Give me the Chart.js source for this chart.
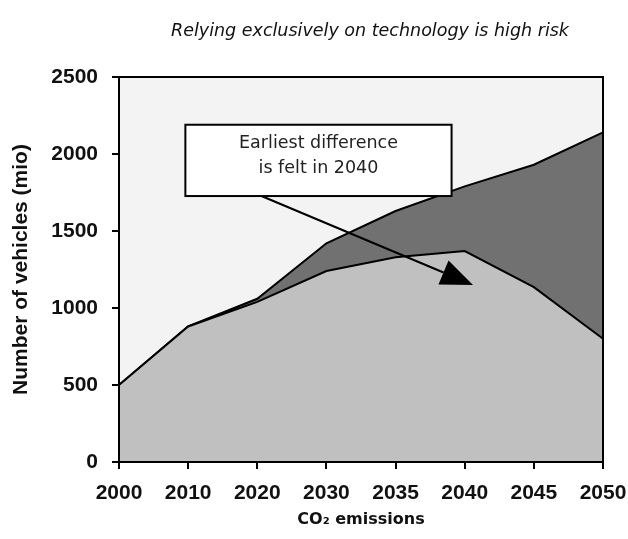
<!DOCTYPE html>
<html>
<head>
<meta charset="utf-8">
<script src="https://cdn.jsdelivr.net/npm/chart.js@4"></script>
<style>
  html, body { margin: 0; padding: 0; background: #ffffff; }
  #chart { display: block; }
</style>
</head>
<body>
<canvas id="chart" width="628" height="539"></canvas>
<script>
// Vehicle fleet scenarios, in millions
const years = ['2000', '2010', '2020', '2030', '2035', '2040', '2045', '2050'];
const baselineFleet = [500, 880, 1060, 1420, 1630, 1790, 1930, 2140];
const technologyFleet = [500, 880, 1040, 1240, 1330, 1370, 1135, 800];
const yTickValues = [0, 500, 1000, 1500, 2000, 2500];

const titleText = 'Relying exclusively on technology is high risk';
const calloutLines = ['Earliest difference', 'is felt in 2040'];

// Callout anchored in axis units: x as category index, y as vehicles (mio)
const calloutBox = { x0: 0.96, x1: 4.81, y0: 2190, y1: 1727 };
const calloutArrow = { fromX: 2.06, fromY: 1727, toX: 5.12, toY: 1150 };

const plotFrame = {
  id: 'plotFrame',
  beforeDatasetsDraw(chart) {
    const { ctx, chartArea: a } = chart;
    ctx.save();
    ctx.fillStyle = '#f3f3f3';
    ctx.fillRect(a.left, a.top, a.right - a.left, a.bottom - a.top);
    ctx.restore();
  },
  afterDatasetsDraw(chart) {
    const { ctx, chartArea: a, scales } = chart;
    const xs = scales.x, ys = scales.y;
    ctx.save();
    // callout arrow
    const fx = xs.getPixelForValue(calloutArrow.fromX), fy = ys.getPixelForValue(calloutArrow.fromY);
    const tx = xs.getPixelForValue(calloutArrow.toX), ty = ys.getPixelForValue(calloutArrow.toY);
    const ang = Math.atan2(ty - fy, tx - fx);
    const headLen = 32, headHalf = 13;
    const bx = tx - headLen * Math.cos(ang), by = ty - headLen * Math.sin(ang);
    ctx.strokeStyle = '#000';
    ctx.lineWidth = 2;
    ctx.beginPath();
    ctx.moveTo(fx, fy);
    ctx.lineTo(bx, by);
    ctx.stroke();
    ctx.fillStyle = '#000';
    ctx.beginPath();
    ctx.moveTo(tx, ty);
    ctx.lineTo(bx + headHalf * Math.sin(ang), by - headHalf * Math.cos(ang));
    ctx.lineTo(bx - headHalf * Math.sin(ang), by + headHalf * Math.cos(ang));
    ctx.closePath();
    ctx.fill();

    // callout box
    const l = xs.getPixelForValue(calloutBox.x0), r = xs.getPixelForValue(calloutBox.x1);
    const t = ys.getPixelForValue(calloutBox.y0), b = ys.getPixelForValue(calloutBox.y1);
    ctx.fillStyle = '#ffffff';
    ctx.fillRect(l, t, r - l, b - t);
    ctx.strokeStyle = '#000';
    ctx.lineWidth = 2;
    ctx.strokeRect(l, t, r - l, b - t);
    ctx.fillStyle = '#222';
    ctx.font = '17.5px "DejaVu Sans", sans-serif';
    ctx.textAlign = 'center';
    ctx.textBaseline = 'middle';
    const cx = (l + r) / 2;
    ctx.fillText(calloutLines[0], cx, t + 19);
    ctx.fillText(calloutLines[1], cx, t + 44);

    // plot border
    ctx.strokeStyle = '#000';
    ctx.lineWidth = 2;
    ctx.strokeRect(a.left, a.top, a.right - a.left, a.bottom - a.top);
    ctx.restore();
  },
  afterDraw(chart) {
    const { ctx } = chart;
    ctx.save();
    ctx.fillStyle = '#111';
    ctx.font = 'italic 17.5px "DejaVu Sans", sans-serif';
    ctx.textAlign = 'center';
    ctx.textBaseline = 'middle';
    ctx.fillText(titleText, 370, 31);
    ctx.restore();
  }
};

new Chart(document.getElementById('chart'), {
  type: 'line',
  data: {
    labels: years,
    datasets: [
      {
        label: 'Technology only',
        data: technologyFleet,
        backgroundColor: '#c0c0c0',
        borderColor: '#000',
        borderWidth: 2,
        fill: 'origin',
        pointRadius: 0,
        tension: 0,
        order: 0
      },
      {
        label: 'Baseline',
        data: baselineFleet,
        backgroundColor: '#717171',
        borderColor: '#000',
        borderWidth: 2,
        fill: 'origin',
        pointRadius: 0,
        tension: 0,
        order: 1
      }
    ]
  },
  options: {
    responsive: false,
    animation: false,
    layout: { padding: { top: 77, right: 25, left: 0, bottom: 0 } },
    plugins: {
      legend: { display: false },
      tooltip: { enabled: false },
      title: { display: false }
    },
    scales: {
      x: {
        offset: false,
        grid: { display: true, drawOnChartArea: false, drawTicks: true, tickLength: 7, color: '#000', lineWidth: 2 },
        border: { display: false },
        ticks: {
          color: '#111',
          font: { family: '"Liberation Sans", Arial, sans-serif', size: 21, weight: 'bold' },
          padding: 12,
          maxRotation: 0,
          autoSkip: false
        },
        title: {
          display: true,
          text: 'CO₂ emissions',
          color: '#111',
          font: { family: '"DejaVu Sans", sans-serif', size: 16, weight: 'bold' },
          padding: { top: 0, bottom: 10 }
        },
        afterFit(scale) {
          scale.height = 77;
          scale.paddingLeft = 0;
          scale.paddingRight = 0;
        }
      },
      y: {
        min: 0,
        max: 2500,
        afterBuildTicks(scale) { scale.ticks = yTickValues.map(v => ({ value: v })); },
        grid: { display: true, drawOnChartArea: false, drawTicks: true, tickLength: 7, color: '#000', lineWidth: 2 },
        border: { display: false },
        ticks: {
          color: '#111',
          font: { family: '"Liberation Sans", Arial, sans-serif', size: 21, weight: 'bold' },
          padding: 14,
          callback: v => String(v)
        },
        title: {
          display: true,
          text: 'Number of vehicles (mio)',
          color: '#111',
          font: { family: '"Liberation Sans", Arial, sans-serif', size: 21, weight: 'bold' },
          padding: { top: 9, bottom: 0 }
        },
        afterFit(scale) {
          scale.width = 119;
          scale.paddingTop = 0;
          scale.paddingBottom = 0;
        }
      }
    }
  },
  plugins: [plotFrame]
});
</script>
</body>
</html>
